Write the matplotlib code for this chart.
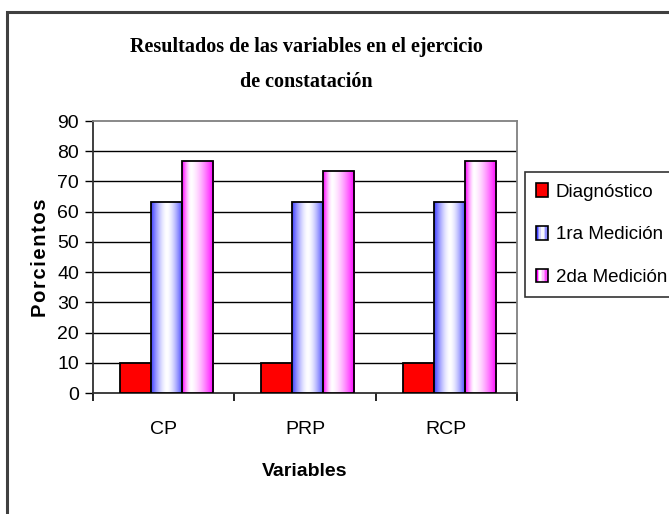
import numpy as np
import matplotlib
matplotlib.use("Agg")
import matplotlib.pyplot as plt
from matplotlib.patches import Rectangle
from matplotlib.legend_handler import HandlerBase

categories = ["CP", "PRP", "RCP"]
series_names = ["Diagnóstico", "1ra Medición", "2da Medición"]
diagnostico = [10, 10, 10]
medicion1 = [63.3, 63.3, 63.3]
medicion2 = [76.6, 73.3, 76.6]
yticks = [0, 10, 20, 30, 40, 50, 60, 70, 80, 90]

title_lines = ["Resultados de las variables en el ejercicio", "de constatación"]
ylabel = "Porcientos"
xlabel = "Variables"

SANS = ["Liberation Sans", "DejaVu Sans"]
SERIF = ["Liberation Serif", "DejaVu Serif"]

W, H = 669, 514
fig = plt.figure(figsize=(W / 100, H / 100), dpi=100)
fig.patch.set_facecolor("white")

# outer chart frame
fig.add_artist(Rectangle((7 / W, -0.05), 1.1, (H - 12) / H + 0.05,
                         transform=fig.transFigure, fill=False,
                         edgecolor="#404040", linewidth=2.2))

ax = fig.add_axes([93 / W, (H - 393) / H, (517 - 93) / W, (393 - 121) / H])


def grad_blue(n=64):
    x = np.linspace(0, 1, n)
    t = np.abs(2 * x - 1) ** 1.6
    base = np.array([0.25, 0.25, 1.0])
    c = (1 - t)[:, None] * np.ones(3) + t[:, None] * base
    return c[None, :, :]


def grad_pink(n=64):
    x = np.linspace(0, 1, n)
    c0 = 0.28
    t = np.where(x < c0, (c0 - x) / c0, (x - c0) / (1 - c0)) ** 1.5
    base = np.array([1.0, 0.0, 1.0])
    c = (1 - t)[:, None] * np.ones(3) + t[:, None] * base
    return c[None, :, :]


x = np.arange(len(categories))
bw = 0.22
offs = [-bw, 0, bw]
shift = 0.02

b0 = ax.bar(x + offs[0] + shift, diagnostico, bw, color="#ff0000", edgecolor="black",
            linewidth=1.3, zorder=3)
b1 = ax.bar(x + offs[1] + shift, medicion1, bw, color="none", edgecolor="black",
            linewidth=1.3, zorder=4)
b2 = ax.bar(x + offs[2] + shift, medicion2, bw, color="none", edgecolor="black",
            linewidth=1.3, zorder=4)

for bars, g in ((b1, grad_blue()), (b2, grad_pink())):
    for r in bars:
        x0, y0 = r.get_x(), r.get_y()
        im = ax.imshow(g, extent=[x0, x0 + r.get_width(), y0, y0 + r.get_height()],
                       aspect="auto", zorder=3, interpolation="bilinear")
        im.set_clip_path(r)

ax.set_xlim(-0.5, len(categories) - 0.5)
ax.set_ylim(0, 90)
ax.set_yticks(yticks)
ax.set_yticklabels([str(v) for v in yticks], fontfamily=SANS, fontsize=14)
ax.set_xticks(x)
ax.set_xticklabels(categories, fontfamily=SANS, fontsize=14)
ax.set_xticks(np.arange(-0.5, len(categories)), minor=True)
ax.tick_params(axis="x", which="major", length=0, pad=20)
ax.tick_params(axis="x", which="minor", length=6, width=1.2, direction="out", color="black")
ax.tick_params(axis="y", length=6, width=1.0, direction="out", pad=4, color="black")

for v in yticks[1:-1]:
    ax.axhline(v, color="black", linewidth=1.0, zorder=1)

ax.spines["top"].set_color("#808080")
ax.spines["right"].set_color("#808080")
ax.spines["top"].set_linewidth(1.3)
ax.spines["right"].set_linewidth(1.3)
ax.spines["left"].set_color("#303030")
ax.spines["left"].set_linewidth(1.3)
ax.spines["bottom"].set_color("#303030")
ax.spines["bottom"].set_linewidth(1.3)
ax.set_facecolor("white")

for txt, yy in zip(title_lines, (47, 82)):
    fig.text(306 / W, 1 - yy / H, txt, ha="center", va="center",
             fontfamily=SERIF, fontweight="bold", fontsize=14.5)

fig.text(40 / W, 1 - 258 / H, "\u200a".join(ylabel), rotation=90, ha="center", va="center",
         fontfamily=SANS, fontweight="bold", fontsize=14.5)
fig.text(305 / W, 1 - 472 / H, xlabel, ha="center", va="center",
         fontfamily=SANS, fontweight="bold", fontsize=14)


class GradHandler(HandlerBase):
    def __init__(self, grad, solid=None):
        super().__init__()
        self.grad = grad
        self.solid = solid

    def create_artists(self, legend, orig_handle, xdescent, ydescent, width, height,
                       fontsize, trans):
        arts = []
        if self.solid is not None:
            arts.append(Rectangle((-xdescent, -ydescent), width, height,
                                  facecolor=self.solid, edgecolor="black",
                                  linewidth=1.2, transform=trans))
            return arts
        g = self.grad[0]
        n = 8
        idx = np.linspace(0, len(g) - 1, n).astype(int)
        for i, k in enumerate(idx):
            arts.append(Rectangle((-xdescent + i * width / n, -ydescent), width / n, height,
                                  facecolor=g[k], edgecolor="none", transform=trans))
        arts.append(Rectangle((-xdescent, -ydescent), width, height, fill=False,
                              edgecolor="black", linewidth=1.2, transform=trans))
        return arts


h0 = Rectangle((0, 0), 1, 1)
h1 = Rectangle((0, 0), 1, 1)
h2 = Rectangle((0, 0), 1, 1)
leg = fig.legend([h0, h1, h2], series_names,
                 handler_map={h0: GradHandler(None, "#ff0000"),
                              h1: GradHandler(grad_blue()),
                              h2: GradHandler(grad_pink())},
                 loc="upper left", bbox_to_anchor=(525 / W, 1 - 172 / H),
                 prop={"family": SANS, "size": 13.5},
                 handlelength=0.65, handleheight=0.75, handletextpad=0.4,
                 labelspacing=1.35, borderpad=0.6, borderaxespad=0,
                 frameon=True, fancybox=False)
leg.get_frame().set_edgecolor("black")
leg.get_frame().set_linewidth(1.2)

fig.savefig("out.png", dpi=100, facecolor="white")
